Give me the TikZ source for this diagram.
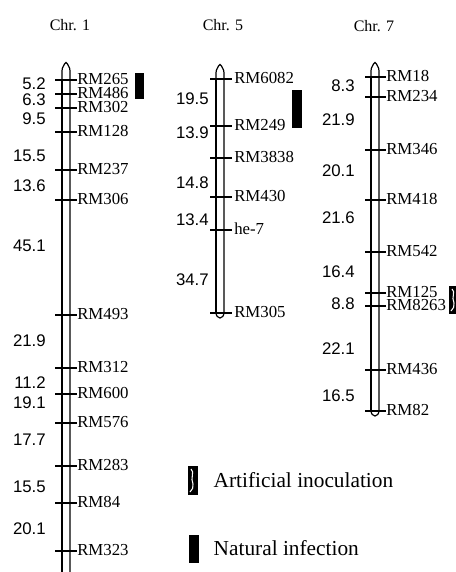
\documentclass[tikz,border=0pt]{standalone}
\usepackage{fontspec}
\setmainfont{Liberation Serif}
\newfontfamily\distfont{Liberation Sans}
\begin{document}
\begin{tikzpicture}[x=0.75pt, y=-0.75pt,
  marker/.style={anchor=west, inner sep=0pt, text height=0.6em, text depth=0pt,
    font=\fontsize{12.6}{13}\selectfont},
  dist/.style={anchor=east, inner sep=0pt, font=\distfont\fontsize{12.6}{13}\selectfont},
  title/.style={font=\fontsize{12}{13}\selectfont},
  legendtext/.style={anchor=west, font=\fontsize{16}{17}\selectfont},
  chromline/.style={line width=0.9pt},
  tick/.style={line width=0.8pt}]

\useasboundingbox (0,0) rectangle (456,572);

%% Chr. 1
\node[title] (t1) at (70,25) {Chr. 1};
\draw[chromline] (62,572) -- (62,71) .. controls (62,67) and (64,66) .. (64.5,64)
  .. controls (65,62) and (67,62) .. (67.5,64) .. controls (68,66) and (70,67) .. (70,71) -- (70,572);
\draw[line width=1.4pt] (62,80) -- (62,572);
\foreach \y/\lab [count=\i] in {80/RM265, 94/RM486, 108/RM302, 132/RM128, 170/RM237,
    200/RM306, 315/RM493, 368/RM312, 394/RM600, 423/RM576, 466/RM283, 503/RM84, 551/RM323}{
  \draw[tick] (55,\y) -- (77,\y);
  \node[marker] (a\i) at (77,\y) {\lab};
}
\foreach \y/\lab [count=\i] in {84/5.2, 100/6.3, 119/9.5, 156/15.5, 186/13.6, 246/45.1,
    341/21.9, 383/11.2, 403/19.1, 440/17.7, 487/15.5, 529/20.1}{
  \node[dist] (d1-\i) at (46,\y) {\lab};
}
\fill[black] (135,73) rectangle (144,99);

%% Chr. 5
\node[title] (t5) at (223,25) {Chr. 5};
\draw[chromline] (216,312) -- (216,73) .. controls (216,69) and (218,68) .. (218.5,66)
  .. controls (219,64) and (221,64) .. (221.5,66) .. controls (222,68) and (224,69) .. (224,73)
  -- (224,312) .. controls (224,320) and (216,320) .. (216,312);
\draw[line width=1.4pt] (216,80) -- (216,312);
\foreach \y/\lab [count=\i] in {79/RM6082, 126/RM249, 158/RM3838, 197/RM430, 230/he-7, 313/RM305}{
  \draw[tick] (210,\y) -- (232,\y);
  \node[marker] (b\i) at (234,\y) {\lab};
}
\foreach \y/\lab [count=\i] in {99/19.5, 133/13.9, 183/14.8, 220/13.4, 280/34.7}{
  \node[dist] (d5-\i) at (209,\y) {\lab};
}
\fill[black] (292,90) rectangle (302,128);

%% Chr. 7
\node[title] (t7) at (374,26) {Chr. 7};
\draw[chromline] (371,410) -- (371,71) .. controls (371,67) and (373,66) .. (373.5,64)
  .. controls (374,62) and (376,62) .. (376.5,64) .. controls (377,66) and (379,67) .. (379,71)
  -- (379,410) .. controls (379,418) and (371,418) .. (371,410);
\draw[line width=1.4pt] (371,78) -- (371,410);
\foreach \y/\lab [count=\i] in {77/RM18, 97/RM234, 150/RM346, 200/RM418, 252/RM542,
    293/RM125, 306/RM8263, 370/RM436, 411/RM82}{
  \draw[tick] (365,\y) -- (386,\y);
  \node[marker] (c\i) at (386,\y) {\lab};
}
\foreach \y/\lab [count=\i] in {86/8.3, 120/21.9, 171/20.1, 218/21.6, 272/16.4, 304/8.8,
    349/22.1, 396/16.5}{
  \node[dist] (d7-\i) at (355,\y) {\lab};
}
\fill[black] (449,286) rectangle (458,314);
\draw[white, line width=0.8pt] (452,289) .. controls (456,292) and (451,297) .. (454,303)
  .. controls (455,306) and (453,309) .. (451,311);

%% Legend
\fill[black] (188,466) rectangle (198,495);
\draw[white, line width=0.8pt] (191,469) .. controls (195,472) and (190,478) .. (193,484)
  .. controls (194,487) and (192,490) .. (190,492);
\node[legendtext] (art) at (209,480) {Artificial inoculation};
\fill[black] (189,535) rectangle (199,563);
\node[legendtext] (nat) at (209,548) {Natural infection};

\end{tikzpicture}
\end{document}
